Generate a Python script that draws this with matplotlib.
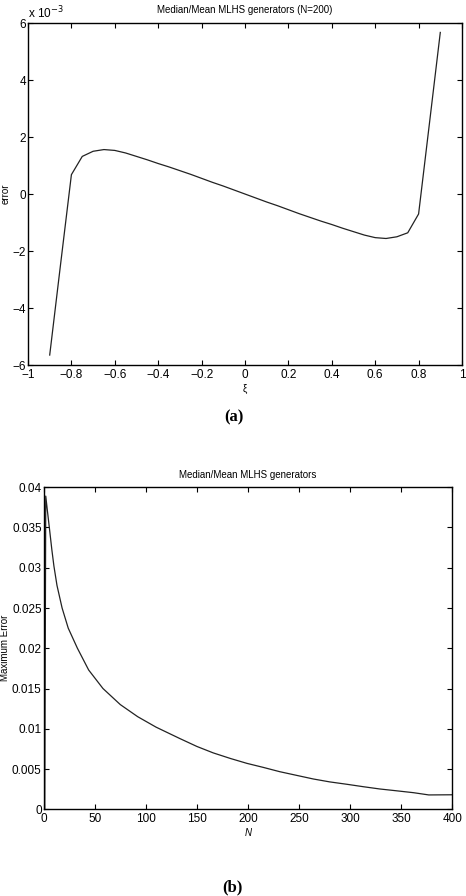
import matplotlib
matplotlib.use("Agg")
from matplotlib import pyplot as plt

# panel (a): error vs xi, in units of 1e-3
xi = [-0.9, -0.85, -0.8, -0.75, -0.7, -0.65, -0.6, -0.55, -0.5, -0.45, -0.4,
      -0.35, -0.3, -0.25, -0.2, -0.15, -0.1, -0.05, 0.0,
      0.05, 0.1, 0.15, 0.2, 0.25, 0.3, 0.35, 0.4, 0.45, 0.5,
      0.55, 0.6, 0.65, 0.7, 0.75, 0.8, 0.85, 0.9]
err_e3 = [-5.65, -2.47, 0.68, 1.32, 1.50, 1.56, 1.53, 1.44, 1.32, 1.20, 1.07,
          0.95, 0.82, 0.69, 0.55, 0.41, 0.28, 0.14, 0.0,
          -0.14, -0.28, -0.41, -0.55, -0.69, -0.82, -0.95, -1.07, -1.20, -1.32,
          -1.44, -1.53, -1.56, -1.50, -1.36, -0.70, 2.48, 5.67]

# panel (b): max error vs N
n_vals = [1, 2, 3.5, 5.5, 8, 10, 13, 18, 24, 33, 44, 58, 75, 92, 110, 133,
          150, 166, 183, 199, 215, 231, 248, 264, 280, 297, 313, 329, 345,
          362, 377, 400]
max_err = [0.0, 0.0389, 0.0372, 0.0350, 0.0322, 0.0302, 0.0278, 0.0250,
           0.0225, 0.0200, 0.0173, 0.0150, 0.0130, 0.0115, 0.0102, 0.0088,
           0.0078, 0.0070, 0.0063, 0.0057, 0.0052, 0.00467, 0.0042, 0.00376,
           0.0034, 0.0031, 0.0028, 0.00252, 0.0023, 0.00206, 0.00178, 0.0018]

plt.rcParams['font.family'] = ['Liberation Sans', 'DejaVu Sans']
plt.rcParams['xtick.direction'] = 'in'
plt.rcParams['ytick.direction'] = 'in'
plt.rcParams['xtick.top'] = True
plt.rcParams['ytick.right'] = True
plt.rcParams['xtick.major.size'] = 3.5
plt.rcParams['ytick.major.size'] = 3.5
plt.rcParams['xtick.labelsize'] = 8.5
plt.rcParams['ytick.labelsize'] = 8.5

fig = plt.figure(figsize=(4.66, 8.96), dpi=100)

ax1 = fig.add_axes([0.0601, 0.5926, 0.9313, 0.3817])
ax1.plot(xi, err_e3, color='#222222', lw=0.9)
ax1.set_xlim(-1, 1)
ax1.set_ylim(-6, 6)
ax1.set_xticks([-1, -0.8, -0.6, -0.4, -0.2, 0, 0.2, 0.4, 0.6, 0.8, 1])
ax1.set_xticklabels(['\u22121', '\u22120.8', '\u22120.6', '\u22120.4', '\u22120.2',
                     '0', '0.2', '0.4', '0.6', '0.8', '1'])
ax1.set_yticks([-6, -4, -2, 0, 2, 4, 6])
ax1.set_yticklabels(['\u22126', '\u22124', '\u22122', '0', '2', '4', '6'])
ax1.tick_params(axis='y', pad=1.5)
ax1.tick_params(axis='x', pad=3)
ax1.set_title('Median/Mean MLHS generators (N=200)', fontsize=7, pad=7)
ax1.set_xlabel('\u03be', fontsize=7, labelpad=2)
ax1.set_ylabel('error', fontsize=7)
ax1.yaxis.set_label_coords(-0.040, 0.5)
ax1.text(0.0, 1.005, 'x 10$^{-3}$', transform=ax1.transAxes, fontsize=8.5,
         ha='left', va='bottom')

ax2 = fig.add_axes([0.0938, 0.0968, 0.8768, 0.3594])
ax2.plot(n_vals, max_err, color='#222222', lw=0.9)
ax2.set_xlim(0, 400)
ax2.set_ylim(0, 0.04)
ax2.set_xticks(range(0, 401, 50))
ax2.set_yticks([0, 0.005, 0.01, 0.015, 0.02, 0.025, 0.03, 0.035, 0.04])
ax2.set_yticklabels(['0', '0.005', '0.01', '0.015', '0.02', '0.025', '0.03',
                     '0.035', '0.04'])
ax2.tick_params(axis='y', pad=1.5)
ax2.tick_params(axis='x', pad=3)
ax2.set_title('Median/Mean MLHS generators', fontsize=7, pad=7)
ax2.set_xlabel('N', fontsize=7, style='italic', labelpad=2)
ax2.set_ylabel('Maximum Error', fontsize=7)
ax2.yaxis.set_label_coords(-0.082, 0.5)

for ax in (ax1, ax2):
    for s in ax.spines.values():
        s.set_linewidth(1.0)

fig.text(0.502, 1 - 417 / 896, '(a)', fontsize=12, fontweight='bold',
         family=['Liberation Serif'], ha='center', va='center')
fig.text(0.498, 1 - 887 / 896, '(b)', fontsize=12, fontweight='bold',
         family=['Liberation Serif'], ha='center', va='center')

fig.savefig('out.png', dpi=100)
